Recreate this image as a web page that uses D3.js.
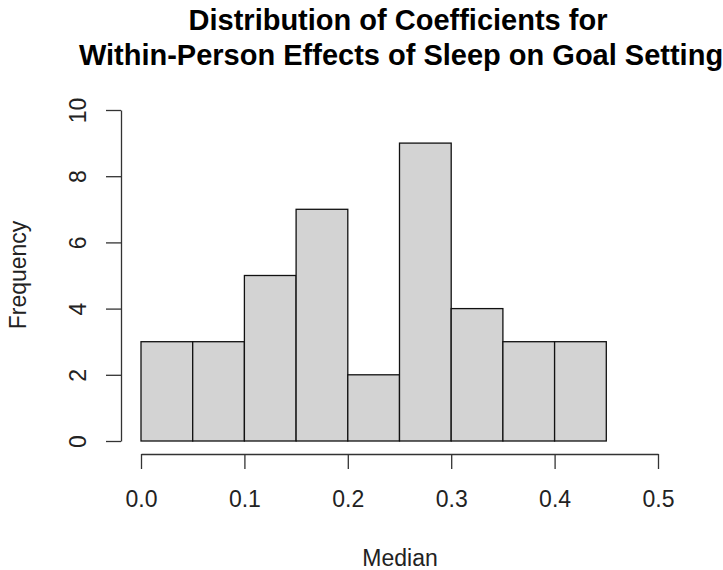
<!DOCTYPE html>
<html>
<head>
<meta charset="utf-8">
<script src="https://d3js.org/d3.v7.min.js"></script>
<style>
  body { margin: 0; background: #fff; }
  text { font-family: "Liberation Sans", Arial, sans-serif; }
</style>
</head>
<body>
<script>
// histogram bins (lower edges) and counts
var binStart = [0.00, 0.05, 0.10, 0.15, 0.20, 0.25, 0.30, 0.35, 0.40];
var binWidth = 0.05;
var counts = [3, 3, 5, 7, 2, 9, 4, 3, 3];
var xTicks = [0, 0.1, 0.2, 0.3, 0.4, 0.5];
var yTicks = [0, 2, 4, 6, 8, 10];

var width = 723, height = 570;

var svg = d3.select("body").append("svg")
    .attr("width", width)
    .attr("height", height);

var x = d3.scaleLinear().domain([0, 0.5]).range([141, 658]);
var y = d3.scaleLinear().domain([0, 10]).range([441, 110]);

// bars
svg.selectAll("rect.bar")
    .data(counts)
    .enter().append("rect")
    .attr("class", "bar")
    .attr("x", function(d, i) { return x(binStart[i]); })
    .attr("y", function(d) { return y(d); })
    .attr("width", function(d, i) { return x(binStart[i] + binWidth) - x(binStart[i]); })
    .attr("height", function(d) { return y(0) - y(d); })
    .style("fill", "#d3d3d3")
    .style("stroke", "#111")
    .style("stroke-width", 1.3);

// x axis
var xAxis = svg.append("g")
    .attr("transform", "translate(0,454)")
    .call(d3.axisBottom(x).tickValues(xTicks).tickFormat(d3.format(".1f")).tickSize(15).tickSizeOuter(0));
xAxis.select(".domain").style("stroke", "#333").style("stroke-width", 1.3);
xAxis.selectAll(".tick line").style("stroke", "#333").style("stroke-width", 1.3);
xAxis.selectAll(".tick text")
    .attr("y", 53).attr("dy", null)
    .style("font-size", "23px")
    .style("font-family", "'Liberation Sans', Arial, sans-serif")
    .style("fill", "#222");

// y axis
var yAxis = svg.append("g")
    .attr("transform", "translate(121,0)")
    .call(d3.axisLeft(y).tickValues(yTicks).tickSize(15).tickSizeOuter(0));
yAxis.select(".domain").style("stroke", "#333").style("stroke-width", 1.3);
yAxis.selectAll(".tick line").style("stroke", "#333").style("stroke-width", 1.3);
yAxis.selectAll(".tick text")
    .attr("x", null)
    .attr("transform", "translate(-43,0) rotate(-90)")
    .attr("dy", "0.35em")
    .style("text-anchor", "middle")
    .style("font-size", "23px")
    .style("font-family", "'Liberation Sans', Arial, sans-serif")
    .style("fill", "#222");

// axis titles
svg.append("text")
    .attr("x", 400)
    .attr("y", 566)
    .style("text-anchor", "middle")
    .style("font-size", "23px")
    .style("fill", "#222")
    .text("Median");

svg.append("text")
    .attr("transform", "translate(26,275) rotate(-90)")
    .style("text-anchor", "middle")
    .style("font-size", "23px")
    .style("fill", "#222")
    .text("Frequency");

// title
svg.append("text")
    .attr("x", 398)
    .attr("y", 30)
    .style("text-anchor", "middle")
    .style("font-size", "29px")
    .style("font-weight", "bold")
    .text("Distribution of Coefficients for");

svg.append("text")
    .attr("x", 401)
    .attr("y", 65)
    .style("text-anchor", "middle")
    .style("font-size", "29px")
    .style("font-weight", "bold")
    .text("Within-Person Effects of Sleep on Goal Setting");
</script>
</body>
</html>
